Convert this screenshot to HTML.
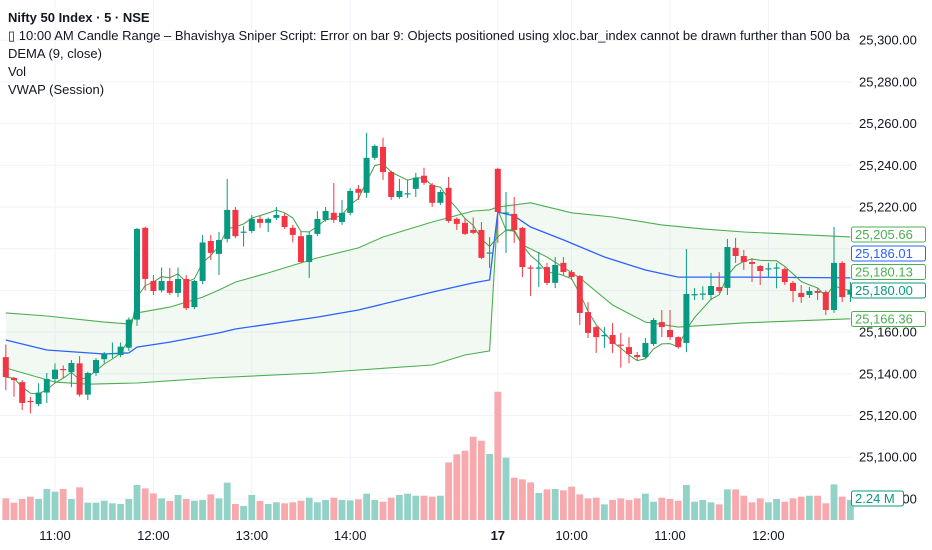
<!DOCTYPE html>
<html><head><meta charset="utf-8"><style>
html,body{margin:0;padding:0;background:#fff;}
#wrap{position:relative;width:932px;height:550px;overflow:hidden;font-family:"Liberation Sans",sans-serif;}
#legend{position:absolute;left:8px;top:9px;width:842px;overflow:hidden;white-space:nowrap;font-size:13px;color:#131722;line-height:18px;}
#legend div{height:18px;}
</style></head><body>
<div id="wrap">
<svg id="svg" width="932" height="550" xmlns="http://www.w3.org/2000/svg"></svg>
<div id="legend">
<div style="font-weight:bold">Nifty 50 Index · 5 · NSE</div>
<div>▯ 10:00 AM Candle Range – Bhavishya Sniper Script: Error on bar 9: Objects positioned using xloc.bar_index cannot be drawn further than 500 bars</div>
<div>DEMA (9, close)</div>
<div>Vol</div>
<div>VWAP (Session)</div>
</div>
</div>
<script>
const opens=[25148,25138,25136,25127,25125.5,25131,25137.5,25142.3,25140.8,25145,25130,25140.4,25147,25149.5,25149,25152.5,25166,25210,25184.5,25180,25184.5,25178.8,25185.5,25172,25184.5,25203.7,25197.5,25204.7,25218.6,25207.8,25208.5,25214.3,25212.4,25214.8,25215.7,25210,25206,25193.6,25207.1,25213.8,25217.2,25212.8,25217.2,25228.7,25226.8,25243.6,25248.8,25236.8,25224.8,25226.2,25228.7,25235,25230.6,25222,25229.2,25214.3,25212.4,25209,25209,25197.7,25238.3,25217,25216.7,25210,25191,25190.5,25191.2,25183.6,25193.2,25188.8,25186.9,25169.6,25162.4,25158,25158.6,25154,25152.8,25149,25148,25154.3,25164.8,25161,25157.6,25154.8,25177.8,25178,25177.8,25181.6,25181.2,25200.4,25196.5,25193.6,25191.7,25190.2,25190.7,25190.2,25183.6,25178.8,25177.8,25179.7,25179.2,25170.6,25193.2,25178];
const highs=[25154,25138.5,25137,25129,25135.5,25140.4,25145,25144,25146.6,25148.5,25141,25147.5,25150.5,25155,25155,25167,25210,25210.5,25187.4,25191,25190.7,25191,25187.4,25185,25206.6,25206.6,25208,25233.5,25220,25211,25216.2,25215.7,25215,25220,25217,25211.4,25208,25208,25218,25220,25231.5,25223.4,25229,25230.6,25255.6,25250,25253.2,25237.5,25233.5,25233,25236.4,25238.8,25231.5,25228.2,25234.4,25215,25214.8,25215,25212.8,25205.6,25238.8,25227.2,25224.8,25210.5,25192,25198.4,25193.2,25196,25196,25189.8,25187.4,25174.4,25163,25162.4,25164.4,25159.6,25157.6,25150.5,25157.2,25166.8,25170.6,25170.6,25158,25199.9,25181.2,25182,25188.4,25188.8,25204.7,25205.2,25199.4,25195.5,25192.2,25193.2,25193.2,25191,25184.5,25182.6,25181.6,25181.1,25180,25210.4,25194,25184];
const lows=[25132.2,25129,25122.6,25121,25124.5,25126,25135.5,25138,25133.6,25129,25127.4,25139,25145,25147.5,25148,25151,25163,25180,25177.8,25179,25177.8,25176.8,25170.6,25171,25183,25194.6,25187.4,25203,25205,25201,25207.5,25210,25208,25213.8,25209.5,25203,25193,25186,25206,25213,25212.4,25211.4,25216,25223.4,25224.4,25242.6,25233,25223.4,25223.9,25224.4,25224.8,25230.6,25220,25221,25212.4,25209,25206.6,25207,25195,25190.8,25202.8,25198,25202.8,25186.4,25177.3,25181.6,25182.6,25181.1,25187.4,25185,25163.4,25157.2,25150,25152.4,25150,25143,25145,25146.6,25147.5,25153.3,25157.6,25156.2,25152,25150.4,25175.4,25175.4,25175.4,25178.8,25177.8,25193.2,25189.8,25184,25182.6,25186.4,25181,25182.6,25174.4,25174,25176.4,25175.4,25168.2,25169.2,25174.4,25174.4];
const closes=[25138.4,25137,25126,25126.5,25131,25137.5,25142,25142,25145.2,25130,25140.4,25146.6,25149.5,25150,25153,25166,25209.5,25185.5,25179.7,25184.5,25178.8,25185.5,25171.5,25184.5,25203,25198,25204.2,25218.6,25206,25208.2,25214.3,25212.4,25214.3,25216.2,25210.4,25206.6,25193.6,25206.6,25214.3,25218.1,25213.8,25217.2,25227.7,25226.8,25243.6,25249.3,25236.8,25224.8,25227.7,25226.6,25234,25231.6,25222,25227.2,25213.3,25211.9,25207.1,25207.6,25195.6,25198.2,25217.6,25217.4,25209,25191.2,25190.7,25191,25183.6,25192.2,25188.8,25186.4,25169.2,25159.6,25157.6,25158.6,25154.3,25153.6,25149.5,25148,25154.8,25165.8,25162.4,25157.6,25152.8,25178.3,25178.2,25178.5,25182.1,25179.7,25200.8,25196.5,25193.6,25192.7,25189.3,25190.6,25191,25184,25179.7,25176.8,25179.7,25178.8,25170.6,25193.2,25176.8,25180];
const volumes=[2.42,1.94,2.35,2.61,2.35,3.47,3.17,3.47,2.35,3.66,1.94,1.94,2.16,1.87,1.79,2.35,3.92,3.54,2.98,2.42,2.13,2.80,2.35,2.16,2.24,2.87,2.42,4.18,1.79,1.57,2.80,2.13,1.79,1.98,1.87,1.98,2.16,2.50,1.98,2.24,2.50,2.24,2.20,2.31,2.95,2.24,2.05,2.50,2.80,2.95,2.72,2.72,2.61,2.72,6.45,7.35,7.76,9.33,8.88,7.39,14.36,6.98,4.74,4.55,4.21,3.02,3.43,3.47,3.32,3.73,2.87,2.42,2.50,1.75,2.24,2.42,2.24,2.42,2.95,2.05,2.50,2.35,2.16,3.92,2.05,2.24,1.98,1.75,3.43,3.43,2.72,1.98,2.42,1.98,2.35,2.05,2.42,2.61,2.72,2.72,1.87,3.99,2.61,2.24];
const vwapIdx=[0,5,12,15,16,20,26,28,38,43,52,57,59,60,62,64,68,73,78,82,90,103];
const vwapVals=[25156.2,25151.4,25149.5,25150,25152.8,25155.2,25159.6,25161.5,25167.2,25170.6,25179.2,25183.6,25185,25217.6,25215.7,25210.4,25204.2,25196,25189.8,25186.4,25186.4,25186.01];
const upperIdx=[0,5,12,15,16,20,24,26,28,32,38,43,46,52,57,59,60,62,64,69,74,80,85,90,103];
const upperVals=[25169.2,25167.7,25164.8,25163.9,25169.2,25172,25176.8,25180.2,25184,25188.4,25195.6,25200.4,25205.6,25212.8,25218.1,25218.6,25220,25221,25222,25217.2,25215.2,25211.4,25209.5,25208,25205.66];
const lowerIdx=[0,6,10,16,25,38,43,52,56,59,60,61,62,63,66,70,74,78,82,90,103];
const lowerVals=[25142.8,25136,25135,25135.6,25138,25140.4,25141.8,25144.2,25149,25151,25218.6,25209,25209,25201.8,25196,25186,25173,25164.8,25162.4,25164.4,25166.36];
const priceTicks=[25300,25280,25260,25240,25220,25200,25180,25160,25140,25120,25100,25080];
const timeTickIdx=[6,18,30,42,60,69,81,93];
const timeTickLabels=["11:00","12:00","13:00","14:00","17","10:00","11:00","12:00"];

const svg=document.getElementById('svg');
const NS='http://www.w3.org/2000/svg';
const PLOT_R=852;
function xOf(i){return 5.8+8.2*i;}
function yOf(p){return 207-(p-25220)*2.085;}
function vy(v){return 520-v*8.93;}
function mk(tag,attrs,parent){const e=document.createElementNS(NS,tag);for(const k in attrs)e.setAttribute(k,attrs[k]);(parent||svg).appendChild(e);return e;}
const fmt=p=>p.toLocaleString('en-US',{minimumFractionDigits:2,maximumFractionDigits:2});

const grid=mk('g',{});


priceTicks.forEach(p=>{const l=mk('line',{x1:0,x2:PLOT_R,y1:yOf(p),y2:yOf(p),stroke:'#f0f3fa','stroke-width':1},grid);

});
timeTickIdx.forEach(i=>{const l=mk('line',{x1:xOf(i),x2:xOf(i),y1:0,y2:522,stroke:'#f0f3fa','stroke-width':1},grid);

});

const vg=mk('g',{});


volumes.forEach((v,i)=>{const up=closes[i]>=opens[i];
const r=mk('rect',{x:xOf(i)-3.4,y:vy(v),width:6.8,height:520-vy(v),fill:up?'#92d2c7':'#f7a9ad'},vg);

});

function pts(idx,vals){return idx.map((k,j)=>xOf(k).toFixed(1)+','+yOf(vals[j]).toFixed(1));}
const upP=pts(upperIdx,upperVals),loP=pts(lowerIdx,lowerVals);
const fill=mk('polygon',{points:upP.concat(loP.slice().reverse()).join(' '),fill:'rgba(76,175,80,0.07)'});


const ub=mk('polyline',{points:upP.join(' '),fill:'none',stroke:'#4caf50','stroke-width':1.1});


const lb=mk('polyline',{points:loP.join(' '),fill:'none',stroke:'#4caf50','stroke-width':1.1});


const vw=mk('polyline',{points:pts(vwapIdx,vwapVals).join(' '),fill:'none',stroke:'#2962ff','stroke-width':1.3});



const a=2/10;let e1=closes[0],e2=closes[0];const dema=[];
closes.forEach(c=>{e1=e1+a*(c-e1);e2=e2+a*(e1-e2);dema.push(2*e1-e2);});
const dl=mk('polyline',{points:dema.map((d,i)=>xOf(i).toFixed(1)+','+yOf(d).toFixed(1)).join(' '),fill:'none',stroke:'#43a047','stroke-width':1});



const cg=mk('g',{});


closes.forEach((c,i)=>{const o=opens[i],up=c>=o,col=up?'#089981':'#f23645',x=xOf(i);
const g=mk('g',{},cg);


mk('line',{x1:x,x2:x,y1:yOf(highs[i]),y2:yOf(lows[i]),stroke:col,'stroke-width':1},g);
const t=yOf(Math.max(o,c)),b=yOf(Math.min(o,c));
mk('rect',{x:x-3,y:t,width:6,height:Math.max(1.2,b-t),fill:col},g);});

const ax=mk('g',{'font-family':'Liberation Sans, sans-serif','font-size':'13',fill:'#131722'});


priceTicks.forEach(p=>{if(p===25200||p===25180)return;const t=mk('text',{x:859,y:yOf(p)+4.5},ax);t.textContent=fmt(p);

});

const tx=mk('g',{'font-family':'Liberation Sans, sans-serif','font-size':'13',fill:'#131722','text-anchor':'middle'});


timeTickIdx.forEach((k,j)=>{const t=mk('text',{x:xOf(k),y:540},tx);t.textContent=timeTickLabels[j];
if(timeTickLabels[j]==='17')t.setAttribute('font-weight','bold');

});

function tag(y,txt,col,name,w){const g=mk('g',{});


mk('rect',{x:851.5,y:y,width:w,height:15,rx:2,fill:'#fff',stroke:col,'stroke-width':1},g);
const t=mk('text',{x:855,y:y+12,'font-family':'Liberation Sans, sans-serif','font-size':'13',fill:col},g);t.textContent=txt;}
tag(227,fmt(upperVals[upperVals.length-1]),'#4caf50','upper-band-price-label',74);
tag(246,fmt(vwapVals[vwapVals.length-1]),'#2962ff','vwap-price-label',74);
tag(264.5,fmt(dema[dema.length-1]),'#4caf50','dema-price-label',74);
tag(283,fmt(closes[closes.length-1]),'#089981','last-price-label',74);
tag(311.5,fmt(lowerVals[lowerVals.length-1]),'#4caf50','lower-band-price-label',74);
tag(491,volumes[volumes.length-1].toFixed(2)+' M','#089981','volume-label',52);
</script>
</body></html>
